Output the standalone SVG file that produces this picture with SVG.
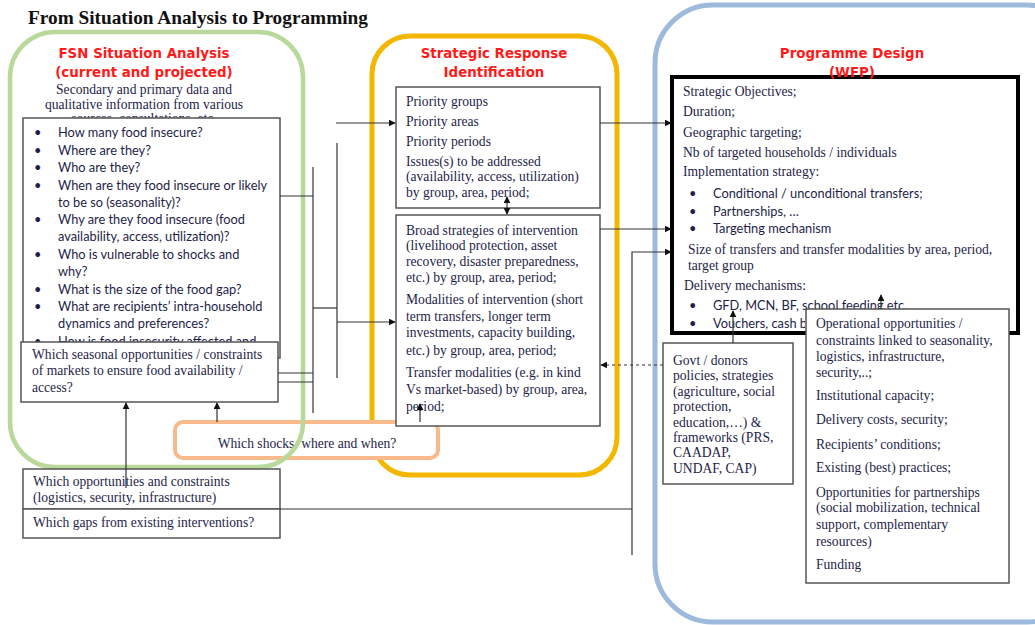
<svg xmlns="http://www.w3.org/2000/svg" width="1035" height="625" viewBox="0 0 1035 625">
  <defs>
    <marker id="arr" viewBox="0 0 10 10" refX="9" refY="5" markerWidth="7" markerHeight="7" orient="auto-start-reverse" markerUnits="userSpaceOnUse">
      <path d="M0,0 L10,5 L0,10 z" fill="#111"/>
    </marker>
    <clipPath id="under-operational">
      <rect x="672" y="300" width="133" height="40"/>
    </clipPath>
    <style>
      .title { font-family: "Liberation Serif", serif; font-weight: bold; font-size: 19.3px; fill: #111; }
      .head { font-family: "DejaVu Sans", sans-serif; font-weight: bold; font-size: 13.4px; fill: #ff1a1a; text-anchor: middle; }
      .serif { font-family: "Liberation Serif", serif; font-size: 13.6px; fill: #1e1e48; }
      .sans { font-family: Lato, "Liberation Sans", sans-serif; font-size: 12.8px; fill: #1e1e48; }
      .box { fill: #fff; stroke: #555; stroke-width: 1.5; }
      .conn { fill: none; stroke: #333; stroke-width: 1.2; }
      .green { fill: none; stroke: #b9d99b; stroke-width: 4.5; }
      .gold { fill: none; stroke: #f4b700; stroke-width: 5; }
      .blue { fill: none; stroke: #9db9dc; stroke-width: 5; }
      .peach { fill: #fff; stroke: #f8b98b; stroke-width: 4; }
    </style>
  </defs>

  <rect width="1035" height="625" fill="#fff"/>

  <text class="title" x="28" y="24">From Situation Analysis to Programming</text>

  <!-- column frames -->
  <g id="frame-programme">
    <rect class="blue" x="655" y="5" width="430" height="617" rx="58"/>
  </g>
  <g id="frame-strategic">
    <rect class="gold" x="372" y="36" width="245" height="439" rx="38"/>
  </g>
  <g id="shocks">
    <rect class="peach" x="175" y="422" width="263" height="36" rx="8"/>
    <text class="serif" x="307" y="448" text-anchor="middle">Which shocks, where and when?</text>
  </g>
  <g id="frame-situation">
    <rect class="green" x="10" y="32" width="293" height="435" rx="45"/>
    <text class="head" x="144" y="58">FSN Situation Analysis</text>
    <text class="head" x="144" y="77">(current and projected)</text>
    <text class="serif" x="144" y="94" text-anchor="middle">Secondary and primary data and</text>
    <text class="serif" x="144" y="109" text-anchor="middle">qualitative information from various</text>
    <text class="serif" x="144" y="123" text-anchor="middle">sources, consultations, etc.</text>
  </g>

  <!-- situation analysis questions -->
  <g id="questions">
    <rect class="box" x="23" y="118" width="257" height="240"/>
    <g class="sans">
      <text x="34" y="137">•</text><text x="58" y="137">How many food insecure?</text>
      <text x="34" y="155">•</text><text x="58" y="155">Where are they?</text>
      <text x="34" y="172">•</text><text x="58" y="172">Who are they?</text>
      <text x="34" y="190">•</text><text x="58" y="190">When are they food insecure or likely</text>
      <text x="58" y="207">to be so (seasonality)?</text>
      <text x="34" y="224">•</text><text x="58" y="224">Why are they food insecure (food</text>
      <text x="58" y="241">availability, access, utilization)?</text>
      <text x="34" y="259">•</text><text x="58" y="259">Who is vulnerable to shocks and</text>
      <text x="58" y="276">why?</text>
      <text x="34" y="294">•</text><text x="58" y="294">What is the size of the food gap?</text>
      <text x="34" y="311">•</text><text x="58" y="311">What are recipients’ intra-household</text>
      <text x="58" y="328">dynamics and preferences?</text>
      <text x="34" y="346">•</text><text x="58" y="346">How is food insecurity affected and</text>
    </g>
  </g>

  <g id="markets">
    <rect class="box" x="21" y="342" width="257" height="60"/>
    <text class="serif" x="32" y="359">Which seasonal opportunities / constraints</text>
    <text class="serif" x="32" y="375">of markets to ensure food availability /</text>
    <text class="serif" x="32" y="392">access?</text>
  </g>

  <g id="opportunities">
    <rect class="box" x="23" y="469" width="257" height="40"/>
    <text class="serif" x="33" y="486">Which opportunities and constraints</text>
    <text class="serif" x="33" y="502">(logistics, security, infrastructure)</text>
  </g>
  <g id="gaps">
    <rect class="box" x="23" y="509" width="257" height="29"/>
    <text class="serif" x="33" y="527">Which gaps from existing interventions?</text>
  </g>

  <!-- strategic response -->
  <g id="strategic-head">
    <text class="head" x="494" y="58">Strategic Response</text>
    <text class="head" x="494" y="77">Identification</text>
  </g>
  <g id="priorities">
    <rect class="box" x="396" y="87" width="204" height="121"/>
    <text class="serif" x="406" y="106">Priority groups</text>
    <text class="serif" x="406" y="126">Priority areas</text>
    <text class="serif" x="406" y="146">Priority periods</text>
    <text class="serif" x="406" y="166">Issues(s) to be addressed</text>
    <text class="serif" x="406" y="181">(availability, access, utilization)</text>
    <text class="serif" x="406" y="197">by group, area, period;</text>
  </g>
  <g id="strategies">
    <rect class="box" x="396" y="215" width="204" height="211"/>
    <text class="serif" x="406" y="235">Broad strategies of intervention</text>
    <text class="serif" x="406" y="250">(livelihood protection, asset</text>
    <text class="serif" x="406" y="266">recovery, disaster preparedness,</text>
    <text class="serif" x="406" y="282">etc.) by group, area, period;</text>
    <text class="serif" x="406" y="304">Modalities of intervention (short</text>
    <text class="serif" x="406" y="321">term transfers, longer term</text>
    <text class="serif" x="406" y="337">investments, capacity building,</text>
    <text class="serif" x="406" y="355">etc.) by group, area, period;</text>
    <text class="serif" x="406" y="377">Transfer modalities (e.g. in kind</text>
    <text class="serif" x="406" y="394">Vs market-based) by group, area,</text>
    <text class="serif" x="406" y="411">period;</text>
  </g>

  <!-- programme design -->
  <g id="programme">
    <rect x="672" y="77" width="346" height="256" fill="#fff" stroke="#000" stroke-width="4"/>
    <text class="serif" x="683" y="96">Strategic Objectives;</text>
    <text class="serif" x="683" y="116">Duration;</text>
    <text class="serif" x="683" y="137">Geographic targeting;</text>
    <text class="serif" x="683" y="157">Nb of targeted households / individuals</text>
    <text class="serif" x="683" y="176">Implementation strategy:</text>
    <g class="sans">
      <text x="689" y="198">•</text><text x="713" y="198">Conditional / unconditional transfers;</text>
      <text x="689" y="216">•</text><text x="713" y="216">Partnerships, …</text>
      <text x="689" y="233">•</text><text x="713" y="233">Targeting mechanism</text>
    </g>
    <text class="serif" x="688" y="254">Size of transfers and transfer modalities by area, period,</text>
    <text class="serif" x="688" y="270">target group</text>
    <text class="serif" x="684" y="290">Delivery mechanisms:</text>
    <g class="sans">
      <text x="689" y="310">•</text><text x="713" y="310">GFD, MCN, BF, school feeding etc.</text>
      <text x="689" y="328">•</text><text x="713" y="328" clip-path="url(#under-operational)">Vouchers, cash b</text>
    </g>
  </g>
  <g id="programme-head">
    <text class="head" x="852" y="58">Programme Design</text>
    <text class="head" x="852" y="77">(WFP)</text>
  </g>

  <g id="policies">
    <rect class="box" x="663" y="343" width="130" height="141"/>
    <text class="serif" x="673" y="365">Govt / donors</text>
    <text class="serif" x="673" y="380">policies, strategies</text>
    <text class="serif" x="673" y="396">(agriculture, social</text>
    <text class="serif" x="673" y="411">protection,</text>
    <text class="serif" x="673" y="427">education,…) &amp;</text>
    <text class="serif" x="673" y="442">frameworks (PRS,</text>
    <text class="serif" x="673" y="457">CAADAP,</text>
    <text class="serif" x="673" y="473">UNDAF, CAP)</text>
  </g>

  <g id="operational">
    <rect class="box" x="806" y="309" width="203" height="274"/>
    <text class="serif" x="816" y="328">Operational opportunities /</text>
    <text class="serif" x="816" y="345">constraints linked to seasonality,</text>
    <text class="serif" x="816" y="361">logistics, infrastructure,</text>
    <text class="serif" x="816" y="377">security,..;</text>
    <text class="serif" x="816" y="400">Institutional capacity;</text>
    <text class="serif" x="816" y="424">Delivery costs, security;</text>
    <text class="serif" x="816" y="449">Recipients’ conditions;</text>
    <text class="serif" x="816" y="472">Existing (best) practices;</text>
    <text class="serif" x="816" y="497">Opportunities for partnerships</text>
    <text class="serif" x="816" y="512">(social mobilization, technical</text>
    <text class="serif" x="816" y="529">support, complementary</text>
    <text class="serif" x="816" y="546">resources)</text>
    <text class="serif" x="816" y="569">Funding</text>
  </g>

  <!-- connectors -->
  <g id="connectors" class="conn">
    <path d="M280,196 H313"/>
    <path d="M313,167 V413"/>
    <path d="M278,373 H313"/>
    <path d="M278,382 H313"/>
    <path d="M313,308 H337"/>
    <path d="M337,143 V378"/>
    <path d="M336,123 H395" marker-end="url(#arr)"/>
    <path d="M337,322 H395" marker-end="url(#arr)"/>
    <path d="M600,123 H671" marker-end="url(#arr)"/>
    <path d="M600,229 H671" marker-end="url(#arr)"/>
    <path d="M632,555 V252 H671" marker-end="url(#arr)"/>
    <path d="M280,509 H632"/>
    <path d="M507,197 V214" marker-start="url(#arr)" marker-end="url(#arr)"/>
    <path d="M420,422 V404" marker-end="url(#arr)"/>
    <path d="M126,488 V403" marker-end="url(#arr)"/>
    <path d="M217,422 V403" marker-end="url(#arr)"/>
    <path d="M663,365 H601" stroke-dasharray="3,3" marker-end="url(#arr)"/>
    <path d="M733,343 V311" marker-end="url(#arr)"/>
    <path d="M881,309 V295" marker-end="url(#arr)"/>
  </g>
</svg>
